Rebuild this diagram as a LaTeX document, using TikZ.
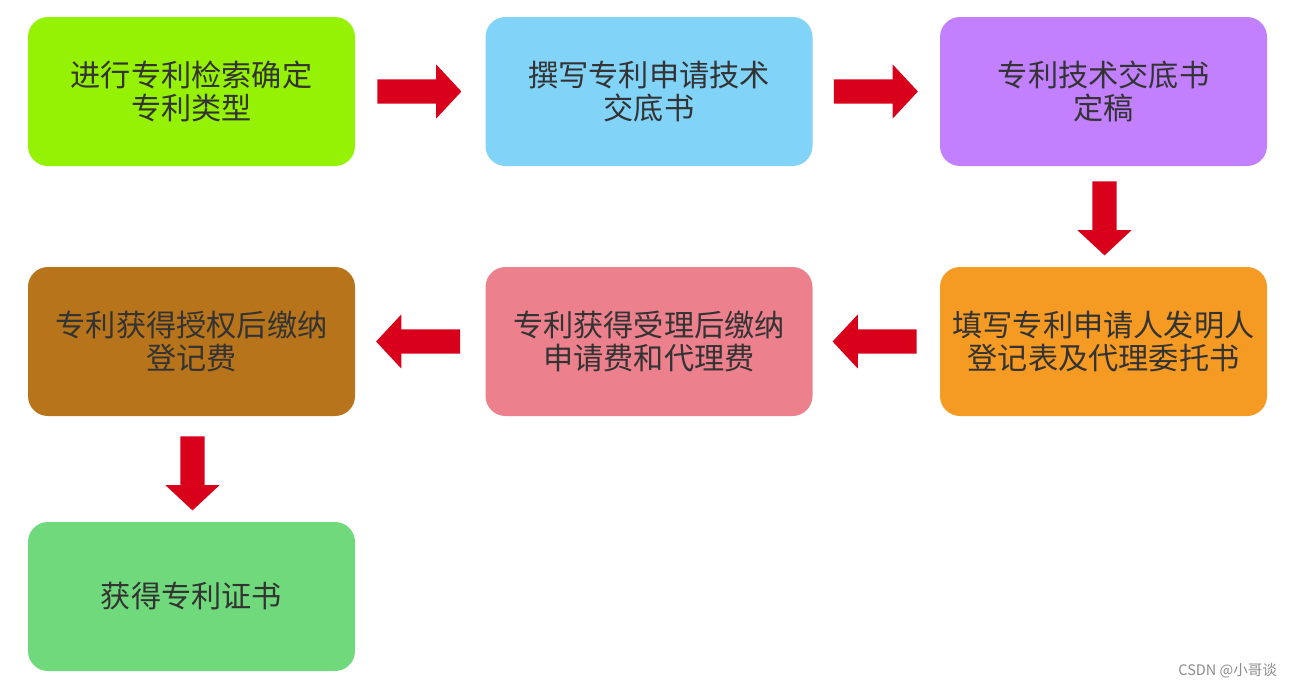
\documentclass[tikz,border=0pt]{standalone}
\usepackage{fontspec}
\setmainfont{Noto Sans CJK SC}
\usetikzlibrary{shapes.arrows,calc}
\definecolor{c1}{HTML}{95F204}
\definecolor{c2}{HTML}{81D3F8}
\definecolor{c3}{HTML}{C280FF}
\definecolor{c4}{HTML}{F59A23}
\definecolor{c5}{HTML}{EC808D}
\definecolor{c6}{HTML}{B8741A}
\definecolor{c7}{HTML}{70D97B}
\definecolor{ared}{HTML}{D9001B}
\definecolor{txt}{HTML}{333333}
\tikzset{
  box/.style={rounded corners=20pt, minimum width=327pt, minimum height=149pt,
    inner sep=0pt, align=center, text=txt, font=\fontsize{30.2}{33}\selectfont},
  blockarrow/.style={single arrow, fill=ared, draw=none, minimum height=84pt,
    minimum width=54pt, inner sep=12pt, single arrow head extend=15pt,
    single arrow tip angle=94, text width=0pt, anchor=tail},
  vblockarrow/.style={blockarrow, minimum height=74pt, rotate=-90},
}
\begin{document}
\begin{tikzpicture}[x=1pt,y=-1pt]
\useasboundingbox[fill=white] (0,0) rectangle (1292,689);
\node[box, fill=c1] (b1) at (191.5,91.5) {进行专利检索确定\\专利类型};
\node[box, fill=c2] (b2) at (649,91.5) {撰写专利申请技术\\交底书};
\node[box, fill=c3] (b3) at (1103.5,91.5) {专利技术交底书\\定稿};
\node[box, fill=c4] (b4) at (1103.5,341.5) {填写专利申请人发明人\\登记表及代理委托书};
\node[box, fill=c5] (b5) at (649,341.5) {专利获得受理后缴纳\\申请费和代理费};
\node[box, fill=c6] (b6) at (191.5,341.5) {专利获得授权后缴纳\\登记费};
\node[box, fill=c7] (b7) at (191.5,596.5) {获得专利证书};
\node[blockarrow] (a1) at ($(b1.east)+(22,0)$) {};
\node[blockarrow] (a2) at ($(b2.east)+(21,0)$) {};
\node[vblockarrow] (a3) at ($(b3.south)+(1,15)$) {};
\node[blockarrow, rotate=180] (a4) at ($(b4.west)+(-23,0)$) {};
\node[blockarrow, rotate=180] (a5) at ($(b5.west)+(-25,0)$) {};
\node[vblockarrow] (a6) at ($(b6.south)+(1,20)$) {};
\node[anchor=east, text=black!45, font=\fontsize{14.5}{16}\selectfont, inner sep=0pt] (wm) at (1277,671) {CSDN @小哥谈};
\end{tikzpicture}
\end{document}
